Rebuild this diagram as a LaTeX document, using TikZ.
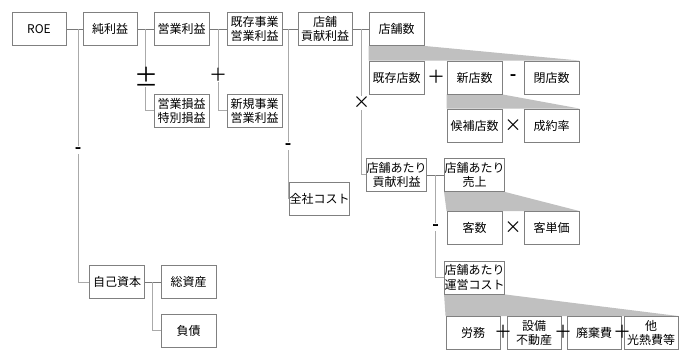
\documentclass[tikz,border=0pt]{standalone}
\usepackage{fontspec}
\setmainfont{Noto Sans CJK JP}[AutoFakeBold=3]
\usetikzlibrary{backgrounds,calc}
\definecolor{boxc}{RGB}{128,128,128}
\definecolor{hlc}{RGB}{120,120,120}
\definecolor{vlc}{RGB}{170,170,170}
\definecolor{trapc}{RGB}{192,192,192}
\tikzset{
  bx/.style={draw=boxc, line width=0.9pt, minimum width=55pt, minimum height=33pt,
    inner sep=0pt, align=center, fill=white, font=\fontsize{12}{14.5}\selectfont},
  hl/.style={draw=hlc, line width=0.9pt},
  vl/.style={draw=vlc, line width=1pt},
  opn/.style={fill=white, inner sep=1pt, font=\fontsize{17}{17}\selectfont},
  opp/.style={fill=white, inner sep=0pt, font=\fontsize{18}{18}\selectfont},
  trap/.style={fill=trapc}
}
\begin{document}
\begin{tikzpicture}[x=1pt,y=-1pt]
\useasboundingbox (0,0) rectangle (684,355);
% boxes
\node[bx,minimum width=54pt] (roe) at (39,29) {ROE};
\node[bx,minimum width=54pt] (jun) at (110,29) {純利益};
\node[bx] (eigyo) at (181.5,29) {営業利益};
\node[bx] (soneki) at (181.5,111) {営業損益\\特別損益};
\node[bx] (kizonj) at (254.5,29) {既存事業\\営業利益};
\node[bx] (shinki) at (254.5,111) {新規事業\\営業利益};
\node[bx,minimum width=54pt] (koken) at (325,29) {店舗\\貢献利益};
\node[bx] (zensha) at (319.5,198.5) {全社コスト};
\node[bx] (tenpo) at (396.5,29) {店舗数};
\node[bx] (kizon) at (396.5,77.5) {既存店数};
\node[bx] (shin) at (474.5,77.5) {新店数};
\node[bx] (heiten) at (551.5,77.5) {閉店数};
\node[bx] (kouho) at (474.5,125.5) {候補店数};
\node[bx] (seiyaku) at (551.5,125.5) {成約率};
\node[bx] (atkoken) at (396.5,175) {店舗あたり\\貢献利益};
\node[bx] (atsales) at (474.5,175) {店舗あたり\\売上};
\node[bx] (kyaku) at (474.5,228) {客数};
\node[bx] (tanka) at (551.5,228) {客単価};
\node[bx] (unei) at (474.5,277.5) {店舗あたり\\運営コスト};
\node[bx,minimum width=54pt] (roumu) at (473,333) {労務};
\node[bx,minimum width=54pt] (setsubi) at (534,333) {設備\\不動産};
\node[bx,minimum width=54pt] (haiki) at (594,333) {廃棄費};
\node[bx,minimum width=54pt] (hoka) at (651,333) {他\\光熱費等};
\node[bx] (jiko) at (117,282) {自己資本};
\node[bx] (soshi) at (188.5,282) {総資産};
\node[bx] (fusai) at (188.5,330.5) {負債};
% trapezoids
\begin{scope}[on background layer]
\fill[white] (0,0) rectangle (684,355);
\fill[trap] (tenpo.south west) -- (tenpo.south east) -- (heiten.north east) -- (kizon.north west) -- cycle;
\fill[trap] (shin.south west) -- (shin.south east) -- (seiyaku.north east) -- (kouho.north west) -- cycle;
\fill[trap] (atsales.south west) -- (atsales.south east) -- (tanka.north east) -- (kyaku.north west) -- cycle;
\fill[trap] (unei.south west) -- (unei.south east) -- (hoka.north east) -- (roumu.north west) -- cycle;
% connectors
\draw[hl] (roe) -- (jun);
\coordinate (c1) at ($(roe.east)+(12,0)$);
\draw[vl] (c1) |- (jiko.west);
\draw[hl] (jun) -- (eigyo);
\draw[vl] ($(jun.east)!0.5!(eigyo.west)$) |- (soneki.west);
\draw[hl] (eigyo) -- (kizonj);
\draw[vl] ($(eigyo.east)!0.5!(kizonj.west)$) |- (shinki.west);
\draw[hl] (kizonj) -- (koken);
\draw[vl] ($(kizonj.east)!0.4!(koken.west)$) |- (zensha.west);
\draw[hl] (koken) -- (tenpo);
\draw[vl] ($(koken.east)!0.55!(tenpo.west)$) |- (atkoken.west);
\draw[hl] (atkoken) -- (atsales);
\draw[vl] ($(atkoken.east)!0.5!(atsales.west)$) |- (unei.west);
\draw[hl] (jiko) -- (soshi);
\draw[vl] ($(jiko.east)!0.5!(soshi.west)$) |- (fusai.west);
\end{scope}
% operators
\node[opn] (o1) at (78,150) {\textbf{-}};
\node[opp] (o2) at (146,77) {\fontsize{24}{24}\selectfont ±};
\node[opp] (o3) at (218,75) {＋};
\node[opn] (o4) at (288,146) {\textbf{-}};
\node[opn] (o5) at (361.5,103) {×};
\node[opp] (o6) at (436,77) {＋};
\node[opn] (o7) at (513,77) {\textbf{-}};
\node[opn] (o8) at (513,126) {×};
\node[opn] (o9) at (435.5,227) {\textbf{-}};
\node[opn] (o10) at (513,228) {×};
\node[opp,fill=none] (o11) at (503,332) {＋};
\node[opp,fill=none] (o12) at (563,332) {＋};
\node[opp,fill=none] (o13) at (622,332) {＋};
\end{tikzpicture}
\end{document}
